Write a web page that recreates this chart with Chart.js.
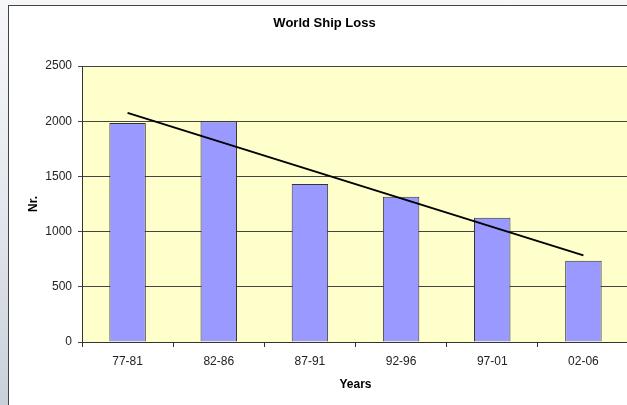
<!DOCTYPE html>
<html>
<head>
<meta charset="utf-8">
<script src="https://cdn.jsdelivr.net/npm/chart.js@4"></script>
<style>
  html, body { margin: 0; padding: 0; width: 627px; height: 405px; overflow: hidden; }
  body { background: linear-gradient(to bottom, #f6f7f9 0%, #e4e8ee 50%, #c9d0da 100%); position: relative; }
  #frame { position: absolute; left: 8px; top: 5px; width: 660px; height: 440px; background: #ffffff; border: 1px solid #444; }
  #wrap { position: absolute; left: 0; top: 0; width: 649px; height: 405px; }
</style>
</head>
<body>
<div id="frame"></div>
<div id="wrap"><canvas id="c" width="649" height="405"></canvas></div>
<script>
const categories = ['77-81', '82-86', '87-91', '92-96', '97-01', '02-06'];
const shipLosses = [1984, 2000, 1431, 1316, 1126, 736];
const trendLine = [2075, null, null, null, null, 785];
const yTicks = [0, 500, 1000, 1500, 2000, 2500];

const plotBg = {
  id: 'plotBg',
  beforeDraw(chart) {
    const { ctx, chartArea: a } = chart;
    ctx.save();
    ctx.fillStyle = '#ffffcc';
    ctx.fillRect(a.left, a.top, a.right - a.left, a.bottom - a.top);
    ctx.restore();
  }
};

new Chart(document.getElementById('c'), {
  type: 'bar',
  data: {
    labels: categories,
    datasets: [
      {
        type: 'line',
        data: trendLine,
        spanGaps: true,
        borderColor: '#000000',
        borderWidth: 2,
        pointRadius: 0,
        fill: false,
        order: 0
      },
      {
        type: 'bar',
        data: shipLosses,
        backgroundColor: '#9999ff',
        borderColor: '#333333',
        borderWidth: 1,
        barPercentage: 0.4,
        categoryPercentage: 1.0,
        order: 1
      }
    ]
  },
  options: {
    responsive: false,
    animation: false,
    devicePixelRatio: 1,
    layout: { padding: { left: 20, right: 20, top: 0, bottom: 0 } },
    plugins: {
      legend: { display: false },
      tooltip: { enabled: false },
      title: {
        display: true,
        text: 'World Ship Loss',
        color: '#000000',
        font: { family: 'Liberation Sans, Arial, sans-serif', size: 13, weight: 'bold' },
        padding: { top: 16, bottom: 34.4 }
      }
    },
    scales: {
      x: {
        offset: true,
        grid: { display: true, drawOnChartArea: false, drawTicks: true, tickLength: 5, color: '#333333', offset: true },
        border: { display: true, color: '#333333', width: 1 },
        ticks: { color: '#222222', padding: 7, font: { family: 'Liberation Sans, Arial, sans-serif', size: 12 } },
        title: { display: true, text: 'Years', color: '#000000', padding: { top: 0, bottom: 13.4 }, font: { family: 'Liberation Sans, Arial, sans-serif', size: 12, weight: 'bold' } },
        afterFit(scale) { scale.height = 63; }
      },
      y: {
        min: 0,
        max: 2500,
        afterBuildTicks(scale) { scale.ticks = yTicks.map(v => ({ value: v })); },
        grid: { color: '#444444', lineWidth: 1, drawTicks: true, tickLength: 4 },
        border: { display: true, color: '#333333', width: 1 },
        ticks: {
          color: '#222222', padding: 6,
          font: { family: 'Liberation Sans, Arial, sans-serif', size: 12 },
          callback: (v) => String(v)
        },
        title: { display: true, text: 'Nr.', color: '#000000', padding: { top: 6.4, bottom: 0 }, font: { family: 'Liberation Sans, Arial, sans-serif', size: 12, weight: 'bold' } },
        afterFit(scale) { scale.width = 62; }
      }
    }
  },
  plugins: [plotBg]
});
</script>
</body>
</html>
